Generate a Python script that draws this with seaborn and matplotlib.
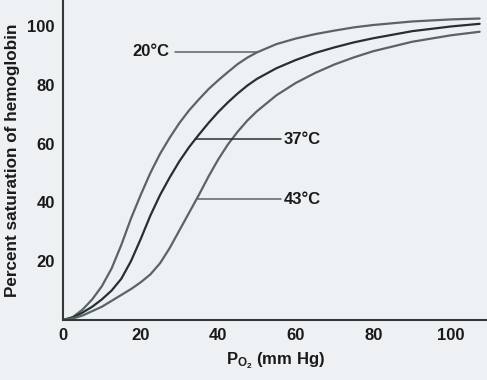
import matplotlib
matplotlib.use("Agg")
import matplotlib.pyplot as plt
import seaborn as sns
import pandas as pd

# ---- data ----
po2_20 = [0, 2.5, 5, 7.5, 10, 12.5, 15, 17.5, 20, 22.5, 25, 27.5, 30, 32.5, 35, 37.5, 40,
          42.5, 45, 47.5, 50, 55, 60, 65, 70, 75, 80, 90, 100, 107.4]
sat_20 = [0, 1, 3.5, 7, 11.5, 17.5, 25.5, 34.5, 42.5, 50, 56.5, 62, 67, 71.3, 75, 78.5, 81.5,
          84.3, 87, 89.2, 91, 93.8, 95.7, 97.2, 98.4, 99.5, 100.3, 101.5, 102.2, 102.5]

po2_37 = [0, 2.5, 5, 7.5, 10, 12.5, 15, 17.5, 20, 22.5, 25, 27.5, 30, 32.5, 35, 37.5, 40,
          42.5, 45, 47.5, 50, 55, 60, 65, 70, 75, 80, 90, 100, 107.4]
sat_37 = [0, 0.8, 2.5, 4.5, 7, 10, 14, 20, 27.5, 35.5, 42.5, 48.5, 54, 58.8, 63, 67, 70.7,
          74, 77, 79.7, 82, 85.6, 88.4, 90.8, 92.7, 94.4, 95.8, 98.2, 99.8, 100.7]

po2_43 = [0, 2.5, 5, 7.5, 10, 12.5, 15, 17.5, 20, 22.5, 25, 27.5, 30, 32.5, 35, 37.5, 40,
          42.5, 45, 47.5, 50, 55, 60, 65, 70, 75, 80, 90, 100, 107.4]
sat_43 = [0, 0.5, 1.5, 3, 4.5, 6.5, 8.5, 10.5, 12.8, 15.5, 19.3, 24.5, 30.5, 36.5, 42.5, 48.8, 54.6,
          59.7, 64, 67.8, 71, 76.4, 80.6, 84, 86.9, 89.3, 91.4, 94.6, 96.8, 98]

temps = ["20°C", "37°C", "43°C"]
x_ticks = [0, 20, 40, 60, 80, 100]
y_ticks = [20, 40, 60, 80, 100]

# label leader lines: (temp, x_start, x_end, y)
leaders = [("20°C", 28.8, 49.9, 91.2), ("37°C", 34.0, 56.3, 61.5), ("43°C", 34.9, 56.3, 41.0)]

frames = []
for t, xs, ys in zip(temps, [po2_20, po2_37, po2_43], [sat_20, sat_37, sat_43]):
    frames.append(pd.DataFrame({"po2": xs, "sat": ys, "temp": t}))
df = pd.concat(frames, ignore_index=True)

sns.set_style("white")
plt.rcParams["font.family"] = ["Liberation Sans", "DejaVu Sans"]
plt.rcParams["mathtext.fontset"] = "custom"
plt.rcParams["mathtext.rm"] = "Liberation Sans:bold"
plt.rcParams["mathtext.it"] = "Liberation Sans:bold"
plt.rcParams["mathtext.bf"] = "Liberation Sans:bold"

bg = "#edf1f3"
fig = plt.figure(figsize=(4.87, 3.80), dpi=100, facecolor=bg)
ax = fig.add_axes([0.1296, 0.158, 0.8704, 0.842])
ax.set_facecolor(bg)

palette = {"20°C": "#5a6464", "37°C": "#263030", "43°C": "#5a6464"}
sns.lineplot(data=df, x="po2", y="sat", hue="temp", palette=palette, sort=False,
             estimator=None, legend=False, linewidth=1.6, ax=ax)
for ln in ax.get_lines():
    ln.set_solid_joinstyle("round")

ax.set_xlim(0, 109.3)
ax.set_ylim(0, 108.8)
ax.set_xticks(x_ticks)
ax.set_yticks(y_ticks)
ax.tick_params(direction="in", length=6, width=1.3, color="#333838",
               labelsize=12, labelcolor="#1a1a1a", pad=6)
for lab in ax.get_xticklabels() + ax.get_yticklabels():
    lab.set_fontweight("bold")

for s in ["top", "right"]:
    ax.spines[s].set_visible(False)
for s in ["left", "bottom"]:
    ax.spines[s].set_color("#333838")
    ax.spines[s].set_linewidth(1.5)

ax.set_ylabel("Percent saturation of hemoglobin", fontsize=12.3, fontweight="bold",
              color="#1a1a1a", labelpad=5)
ax.set_xlabel(r"P$_{\mathrm{O}_2}$ (mm Hg)", fontsize=12, fontweight="bold",
              color="#1a1a1a", labelpad=5)

for t, x0, x1, y in leaders:
    col = "#2a3030" if t == "37°C" else "#5a6464"
    ax.plot([x0, x1], [y, y], color=col, linewidth=1.1)
    if t == "20°C":
        ax.text(x0 - 1.3, y, t, ha="right", va="center", fontsize=12,
                fontweight="bold", color="#1a1a1a")
    else:
        ax.text(x1 + 0.5, y, t, ha="left", va="center", fontsize=12,
                fontweight="bold", color="#1a1a1a")

fig.savefig("out.png", dpi=100, facecolor=bg)
